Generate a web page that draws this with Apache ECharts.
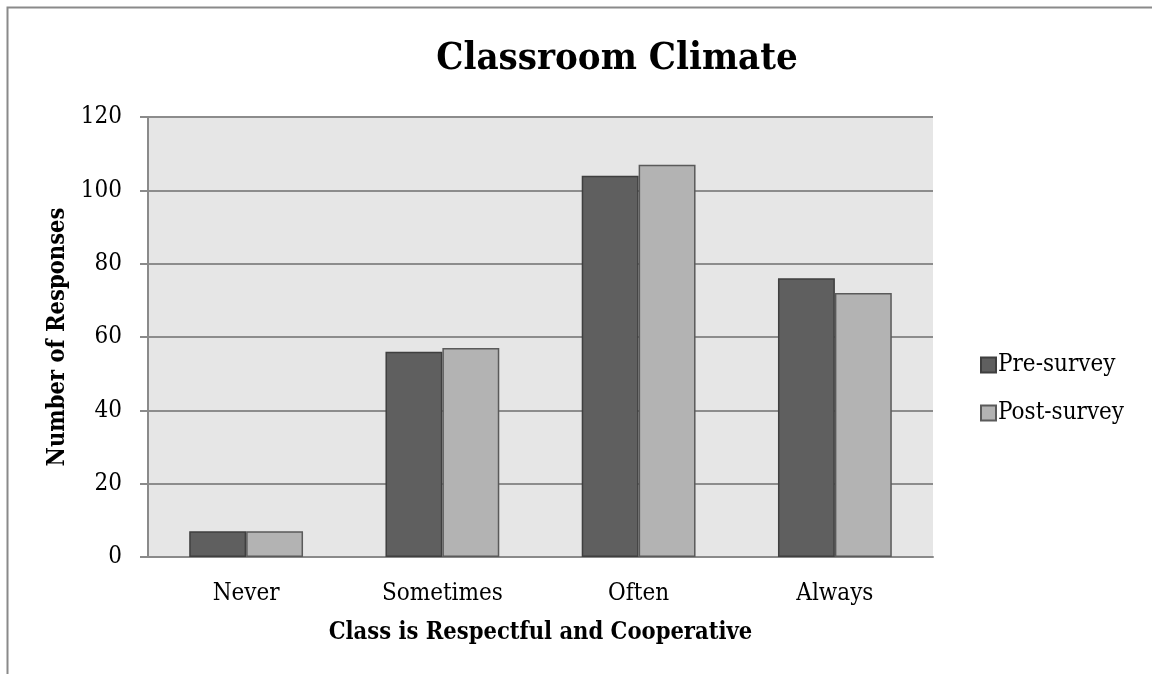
<!DOCTYPE html>
<html>
<head>
<meta charset="utf-8">
<script src="https://cdn.jsdelivr.net/npm/echarts@6/dist/echarts.min.js"></script>
<style>
html,body{margin:0;padding:0;background:#fff;}
#chart{width:1152px;height:674px;}
</style>
</head>
<body>
<div id="chart"></div>
<script>
const categories = ['Never', 'Sometimes', 'Often', 'Always'];
const preSurvey = [7, 56, 104, 76];
const postSurvey = [7, 57, 107, 72];
const yTicks = { min: 0, max: 120, interval: 20 };

const FONT = "'DejaVu Serif Condensed', 'DejaVu Serif', serif";
const chart = echarts.init(document.getElementById('chart'), null, { renderer: 'canvas' });
chart.setOption({
  backgroundColor: '#ffffff',
  animation: false,
  title: {
    text: 'Classroom Climate',
    left: 612,
    textAlign: 'center',
    top: 35,
    textStyle: { fontFamily: FONT, fontWeight: 'bold', fontSize: 38, color: '#000' }
  },
  graphic: [{
    type: 'polyline',
    shape: { points: [[7.5, 674], [7.5, 7.5], [1152, 7.5]] },
    style: { stroke: '#8a8a8a', lineWidth: 2, fill: null },
    silent: true
  }],
  legend: {
    orient: 'vertical',
    left: 975,
    top: 348,
    itemWidth: 15,
    itemHeight: 15,
    itemGap: 24,
    icon: 'rect',
    textStyle: { fontFamily: FONT, fontSize: 24, color: '#000', lineHeight: 24, padding: [0, 0, 0, -3] },
    data: ['Pre-survey', 'Post-survey']
  },
  grid: { left: 148, right: 219, top: 117, bottom: 117, show: true, backgroundColor: '#e6e6e6', borderWidth: 0 },
  xAxis: {
    type: 'category',
    data: categories,
    name: 'Class is Respectful and Cooperative',
    nameLocation: 'middle',
    nameGap: 64,
    nameTextStyle: { fontFamily: FONT, fontWeight: 'bold', fontSize: 23.5, color: '#000' },
    axisLine: { lineStyle: { color: '#8a8a8a', width: 2 } },
    axisTick: { show: false },
    axisLabel: { fontFamily: FONT, fontSize: 24, color: '#000', margin: 25 },
    splitLine: { show: false }
  },
  yAxis: {
    type: 'value',
    min: yTicks.min,
    max: yTicks.max,
    interval: yTicks.interval,
    name: 'Number of Responses',
    nameLocation: 'middle',
    nameGap: 76,
    nameTextStyle: { fontFamily: FONT, fontWeight: 'bold', fontSize: 23.5, color: '#000' },
    axisLine: { show: true, lineStyle: { color: '#8a8a8a', width: 2 } },
    axisTick: { show: true, length: 8, lineStyle: { color: '#8a8a8a', width: 2 } },
    axisLabel: { fontFamily: FONT, fontSize: 24, color: '#000', margin: 26 },
    splitLine: { show: true, lineStyle: { color: '#8c8c8c', width: 2 } }
  },
  series: [
    {
      name: 'Pre-survey',
      type: 'bar',
      data: preSurvey,
      barGap: '0%',
      barCategoryGap: '42%',
      itemStyle: { color: '#5f5f5f', borderColor: '#3f3f3f', borderWidth: 1.5 }
    },
    {
      name: 'Post-survey',
      type: 'bar',
      data: postSurvey,
      itemStyle: { color: '#b3b3b3', borderColor: '#5a5a5a', borderWidth: 1.5 }
    }
  ]
});
</script>
</body>
</html>
